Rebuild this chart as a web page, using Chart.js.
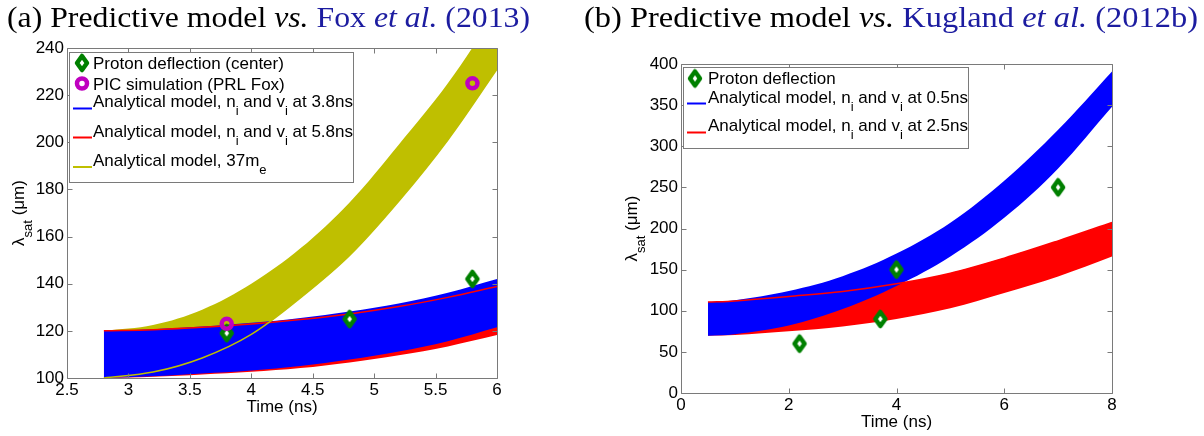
<!DOCTYPE html>
<html>
<head>
<meta charset="utf-8">
<script src="https://cdn.jsdelivr.net/npm/chart.js@4.4.1/dist/chart.umd.min.js"></script>
<style>
  html, body { margin: 0; padding: 0; background: #fff; }
  #page { position: relative; width: 1204px; height: 436px; overflow: hidden; }
  canvas { position: absolute; top: 0; }
  .title {
    position: absolute; top: 0; white-space: nowrap; color: #000;
    font-family: 'Liberation Serif', 'DejaVu Serif', serif; font-size: 29px; line-height: 34px;
    transform-origin: 0 0;
  }
  .cite { color: #1c1ca0; }
</style>
</head>
<body>
<div id="page">
  <canvas id="chartA" width="560" height="436" style="left:0"></canvas>
  <canvas id="chartB" width="614" height="436" style="left:590px"></canvas>
  <div class="title" id="titleA" style="left:7px">(a) Predictive model <i>vs.</i> <span class="cite">Fox <i>et al.</i> (2013)</span></div>
  <div class="title" id="titleB" style="left:584px">(b) Predictive model <i>vs.</i> <span class="cite">Kugland <i>et al.</i> (2012b)</span></div>
</div>
<script>
// (a) Fox et al. (2013)
const timeA = [2.8, 3.2, 3.6, 4.0, 4.4, 4.8, 5.2, 5.6, 6.0];
const blueUpperA = [120, 120.7, 121.8, 123.4, 125.5, 128.2, 131.6, 136.2, 142];
const blueLowerA = [100, 100.7, 101.9, 103.2, 105.1, 107.8, 111.2, 115.6, 121.5];
const redUpperA = [120, 120.5, 121.5, 122.9, 124.8, 127.2, 130.3, 134.2, 138.8];
const redLowerA = [100, 100.5, 101.5, 102.6, 104.2, 106.6, 109.6, 113.4, 118.2];
const yellowUpperA = [120, 122.5, 129, 140, 155, 174.5, 199, 225, 256];
const yellowLowerA = [100, 102.5, 108.5, 118.5, 134, 152, 175, 201, 231];
const protonTimeA = [3.8, 4.8, 5.8];
const protonA = [119, 125, 142];
const picTimeA = [3.8, 5.8];
const picA = [123, 225];
const xTicksA = [2.5, 3, 3.5, 4, 4.5, 5, 5.5, 6];
const yTicksA = [100, 120, 140, 160, 180, 200, 220, 240];

// (b) Kugland et al. (2012b)
const timeB = [0.5, 1, 2, 3, 4, 5, 6, 7, 8];
const blueUpperB = [110.5, 112.8, 124, 142, 169.5, 207, 258, 320, 391];
const blueLowerB = [69.6, 71.5, 82, 102, 130, 166, 213, 273, 348];
const redUpperB = [110.5, 112, 117.4, 123.5, 132.8, 145.7, 164, 185, 207.3];
const redLowerB = [69.6, 70.5, 75, 81, 90, 103, 121.5, 141.7, 166];
const protonTimeB = [2.2, 3.7, 4, 7];
const protonB = [60, 90, 150, 250];
const xTicksB = [0, 2, 4, 6, 8];
const yTicksB = [0, 50, 100, 150, 200, 250, 300, 350, 400];

const sans = "'Liberation Sans', Arial, Helvetica, sans-serif";
Chart.defaults.font.family = sans;
Chart.defaults.font.size = 17;
Chart.defaults.color = '#000';

const axisColor = '#7a7a7a';
const blue = '#0000ff', red = '#ff0000', yellow = '#bfbf00', green = '#008000', magenta = '#bf00bf';

const xy = (xs, ys) => xs.map((x, i) => ({ x, y: ys[i] }));

// thick green diamond with a small white centre
function makeDiamond() {
  const c = document.createElement('canvas');
  c.width = 18; c.height = 22;
  const g = c.getContext('2d');
  g.beginPath();
  g.moveTo(9, 4); g.lineTo(14, 11); g.lineTo(9, 18); g.lineTo(4, 11); g.closePath();
  g.fillStyle = '#fff'; g.fill();
  g.strokeStyle = green; g.lineWidth = 4.5; g.lineJoin = 'round'; g.stroke();
  return c;
}
const diamond = makeDiamond();

function edge(data, color, width, order, fill, bg) {
  return {
    data, order,
    borderColor: color, borderWidth: width,
    backgroundColor: bg || 'transparent',
    fill: fill === undefined ? false : fill,
    pointRadius: 0, pointHoverRadius: 0,
    tension: 0.35
  };
}

function protonSet(xs, ys, order) {
  return { data: xy(xs, ys), showLine: false, pointStyle: diamond, pointRadius: 8, order };
}

function drawRich(ctx, parts, x, y) {
  let cx = x;
  parts.forEach(p => {
    ctx.font = p.sub ? '13px ' + sans : '17px ' + sans;
    ctx.fillText(p.t, cx, y + (p.sub ? 8 : 0));
    cx += ctx.measureText(p.t).width;
  });
  return cx - x;
}
function richWidth(ctx, parts) {
  let w = 0;
  parts.forEach(p => {
    ctx.font = p.sub ? '13px ' + sans : '17px ' + sans;
    w += ctx.measureText(p.t).width;
  });
  return w;
}

const frame = {
  id: 'frame',
  afterDatasetsDraw(chart) {
    const { ctx, chartArea: a, scales } = chart;
    const tl = 5;
    ctx.save();
    ctx.strokeStyle = axisColor;
    ctx.lineWidth = 1;
    const l = Math.round(a.left) + 0.5, r = Math.round(a.right) + 0.5;
    const t = Math.round(a.top) + 0.5, b = Math.round(a.bottom) + 0.5;
    ctx.beginPath();
    ctx.rect(l, t, r - l, b - t);
    scales.x.ticks.forEach(k => {
      const px = Math.round(scales.x.getPixelForValue(k.value)) + 0.5;
      ctx.moveTo(px, b); ctx.lineTo(px, b - tl);
      ctx.moveTo(px, t); ctx.lineTo(px, t + tl);
    });
    scales.y.ticks.forEach(k => {
      const py = Math.round(scales.y.getPixelForValue(k.value)) + 0.5;
      ctx.moveTo(l, py); ctx.lineTo(l + tl, py);
      ctx.moveTo(r, py); ctx.lineTo(r - tl, py);
    });
    ctx.stroke();
    ctx.restore();
  }
};

const yTitle = [{ t: 'λ' }, { t: 'sat', sub: true }, { t: ' (μm)' }];

const annotate = {
  id: 'annotate',
  afterDraw(chart, args, opts) {
    const { ctx, chartArea: a } = chart;
    ctx.save();
    ctx.fillStyle = '#000';
    ctx.textBaseline = 'alphabetic';
    ctx.textAlign = 'center';
    ctx.font = '17px ' + sans;
    ctx.fillText('Time (ns)', (a.left + a.right) / 2, a.bottom + 33.5);

    ctx.textAlign = 'left';
    ctx.save();
    ctx.translate(opts.yTitleX, (a.top + a.bottom) / 2);
    ctx.rotate(-Math.PI / 2);
    drawRich(ctx, yTitle, -richWidth(ctx, yTitle) / 2, 0);
    ctx.restore();

    const L = opts.legend;
    ctx.fillStyle = '#fff';
    ctx.fillRect(L.x, L.y, L.w, L.h);
    ctx.strokeStyle = axisColor;
    ctx.lineWidth = 1;
    ctx.strokeRect(L.x + 0.5, L.y + 0.5, L.w, L.h);
    L.rows.forEach(row => {
      if (row.kind === 'diamond') {
        ctx.drawImage(diamond, L.markX - 9, row.markY - 11);
      } else if (row.kind === 'ring') {
        ctx.beginPath();
        ctx.arc(L.markX, row.markY, 5, 0, Math.PI * 2);
        ctx.strokeStyle = magenta; ctx.lineWidth = 4.5; ctx.stroke();
      } else {
        ctx.beginPath();
        ctx.moveTo(L.lineX0, row.lineY); ctx.lineTo(L.lineX1, row.lineY);
        ctx.strokeStyle = row.color; ctx.lineWidth = 2; ctx.stroke();
      }
      ctx.fillStyle = '#000';
      drawRich(ctx, row.parts, L.textX, row.base);
    });
    ctx.restore();
  }
};

function makeChart(id, datasets, xTicks, yTicks, box, extra) {
  return new Chart(document.getElementById(id), {
    type: 'line',
    data: { datasets },
    options: {
      responsive: false,
      animation: false,
      events: [],
      layout: { padding: box.padding },
      scales: {
        x: {
          type: 'linear', min: xTicks[0], max: xTicks[xTicks.length - 1],
          grid: { display: false, drawTicks: false }, border: { display: false },
          ticks: { padding: 2, maxRotation: 0, autoSkip: false, font: { size: 17 }, callback: v => String(v) },
          afterBuildTicks: s => { s.ticks = xTicks.map(v => ({ value: v })); },
          afterFit: s => { s.height = box.xHeight; }
        },
        y: {
          type: 'linear', min: yTicks[0], max: yTicks[yTicks.length - 1],
          grid: { display: false, drawTicks: false }, border: { display: false },
          ticks: { padding: 3, autoSkip: false, font: { size: 17 }, callback: v => String(v) },
          afterBuildTicks: s => { s.ticks = yTicks.map(v => ({ value: v })); },
          afterFit: s => { s.width = box.yWidth; }
        }
      },
      plugins: {
        legend: { display: false },
        title: { display: false },
        tooltip: { enabled: false },
        annotate: extra
      }
    },
    plugins: [frame, annotate]
  });
}

makeChart('chartA', [
  { data: xy(picTimeA, picA), showLine: false, pointStyle: 'circle', pointRadius: 5, borderWidth: 4.5,
    borderColor: magenta, backgroundColor: 'transparent', order: 0 },
  protonSet(protonTimeA, protonA, 1),
  edge(xy(timeA, yellowLowerA), yellow, 1.5, 2),
  edge(xy(timeA, redUpperA), red, 1.5, 2),
  edge(xy(timeA, blueLowerA), 'transparent', 1, 4),
  edge(xy(timeA, blueUpperA), 'transparent', 1, 4, 4, blue),
  edge(xy(timeA, redLowerA), 'transparent', 1, 5),
  edge(xy(timeA, redUpperA), 'transparent', 1, 5, 6, red),
  edge(xy(timeA, yellowLowerA), 'transparent', 1, 6),
  edge(xy(timeA, yellowUpperA), 'transparent', 1, 6, 8, yellow)
], xTicksA, yTicksA,
  { padding: { left: 0, right: 63, top: 48, bottom: 0 }, xHeight: 58, yWidth: 67 },
  {
    yTitleX: 24,
    legend: {
      x: 69, y: 52, w: 284, h: 130, markX: 82, textX: 93, lineX0: 73, lineX1: 92,
      rows: [
        { kind: 'diamond', markY: 63, base: 68.5, parts: [{ t: 'Proton deflection (center)' }] },
        { kind: 'ring', markY: 83.5, base: 89.5, parts: [{ t: 'PIC simulation (PRL Fox)' }] },
        { kind: 'line', color: blue, lineY: 108.5, base: 107, parts: [{ t: 'Analytical model, n' }, { t: 'i', sub: true }, { t: ' and v' }, { t: 'i', sub: true }, { t: ' at 3.8ns' }] },
        { kind: 'line', color: red, lineY: 137.5, base: 136.5, parts: [{ t: 'Analytical model, n' }, { t: 'i', sub: true }, { t: ' and v' }, { t: 'i', sub: true }, { t: ' at 5.8ns' }] },
        { kind: 'line', color: yellow, lineY: 167, base: 166, parts: [{ t: 'Analytical model, 37m' }, { t: 'e', sub: true }] }
      ]
    }
  });

makeChart('chartB', [
  protonSet(protonTimeB, protonB, 0),
  edge(xy(timeB, redUpperB), red, 1.5, 2),
  edge(xy(timeB, blueLowerB), 'transparent', 1, 4),
  edge(xy(timeB, blueUpperB), 'transparent', 1, 4, 2, blue),
  edge(xy(timeB, redLowerB), 'transparent', 1, 5),
  edge(xy(timeB, redUpperB), 'transparent', 1, 5, 4, red)
], xTicksB, yTicksB,
  { padding: { left: 0, right: 92, top: 64, bottom: 0 }, xHeight: 43, yWidth: 91 },
  {
    yTitleX: 47,
    legend: {
      x: 93, y: 67, w: 285, h: 81, markX: 105, textX: 118, lineX0: 97, lineX1: 116,
      rows: [
        { kind: 'diamond', markY: 78.5, base: 84, parts: [{ t: 'Proton deflection' }] },
        { kind: 'line', color: blue, lineY: 103.5, base: 102.5, parts: [{ t: 'Analytical model, n' }, { t: 'i', sub: true }, { t: ' and v' }, { t: 'i', sub: true }, { t: ' at 0.5ns' }] },
        { kind: 'line', color: red, lineY: 132.5, base: 131, parts: [{ t: 'Analytical model, n' }, { t: 'i', sub: true }, { t: ' and v' }, { t: 'i', sub: true }, { t: ' at 2.5ns' }] }
      ]
    }
  });

function fitTitle(id, width) {
  const el = document.getElementById(id);
  const w = el.getBoundingClientRect().width;
  el.style.transform = 'scaleX(' + (width / w) + ')';
}
fitTitle('titleA', 523);
fitTitle('titleB', 614);
</script>
</body>
</html>
